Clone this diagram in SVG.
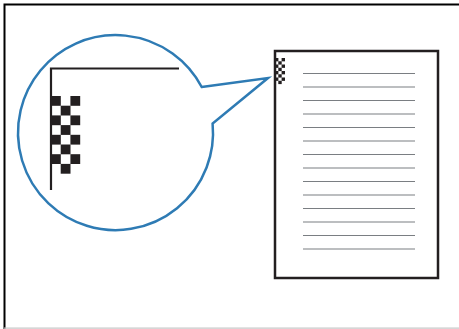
<svg xmlns="http://www.w3.org/2000/svg" width="459" height="329" viewBox="0 0 459 329">
<defs>
<style>
.dark{fill:#231f20}
.ln{stroke:#7a7e82;stroke-width:1.2}
</style>
<g id="chkrow">
<rect class="dark" x="0" y="0" width="9.8" height="9.8"/>
<rect class="dark" x="19.4" y="0" width="9.8" height="9.8"/>
<rect class="dark" x="9.7" y="9.7" width="9.8" height="9.8"/>
</g>
<g id="minirow">
<rect class="dark" x="0" y="0" width="3.4" height="3.35"/>
<rect class="dark" x="6.6" y="0" width="3.4" height="3.35"/>
<rect class="dark" x="3.3" y="3.25" width="3.4" height="3.35"/>
</g>
</defs>
<rect width="459" height="329" fill="#fff"/>
<g id="frame">
<path d="M4.5 329 V4.5 H459" fill="none" stroke="#000" stroke-width="2"/>
<line x1="4" y1="328.2" x2="459" y2="328.2" stroke="#c8c8c8" stroke-width="1.2"/>
</g>
<g id="magnifier">
<path d="M201.7 87 L268 78 L212.6 123.5 A97.5 97.5 0 1 1 201.7 87 Z" fill="#fff" stroke="#2e7bb4" stroke-width="2.5" stroke-linejoin="miter"/>
<path d="M179 68.5 H51 V190" fill="none" stroke="#231f20" stroke-width="2.2"/>
<use href="#chkrow" x="51" y="96"/>
<use href="#chkrow" x="51" y="115.4"/>
<use href="#chkrow" x="51" y="134.8"/>
<use href="#chkrow" x="51" y="154.2"/>
</g>
<g id="page">
<rect x="275" y="51" width="163" height="227" fill="#fff" stroke="#231f20" stroke-width="2.5"/>
<use href="#minirow" x="275" y="58"/>
<use href="#minirow" x="275" y="64.5"/>
<use href="#minirow" x="275" y="71"/>
<use href="#minirow" x="275" y="77.5"/>
<g class="ln">
<line x1="303" y1="73.5" x2="415" y2="73.5"/>
<line x1="303" y1="87" x2="415" y2="87"/>
<line x1="303" y1="100.5" x2="415" y2="100.5"/>
<line x1="303" y1="114" x2="415" y2="114"/>
<line x1="303" y1="127.5" x2="415" y2="127.5"/>
<line x1="303" y1="141" x2="415" y2="141"/>
<line x1="303" y1="154.5" x2="415" y2="154.5"/>
<line x1="303" y1="168" x2="415" y2="168"/>
<line x1="303" y1="181.5" x2="415" y2="181.5"/>
<line x1="303" y1="195" x2="415" y2="195"/>
<line x1="303" y1="208.5" x2="415" y2="208.5"/>
<line x1="303" y1="222" x2="415" y2="222"/>
<line x1="303" y1="235.5" x2="415" y2="235.5"/>
<line x1="303" y1="249" x2="415" y2="249"/>
</g>
</g>
</svg>
